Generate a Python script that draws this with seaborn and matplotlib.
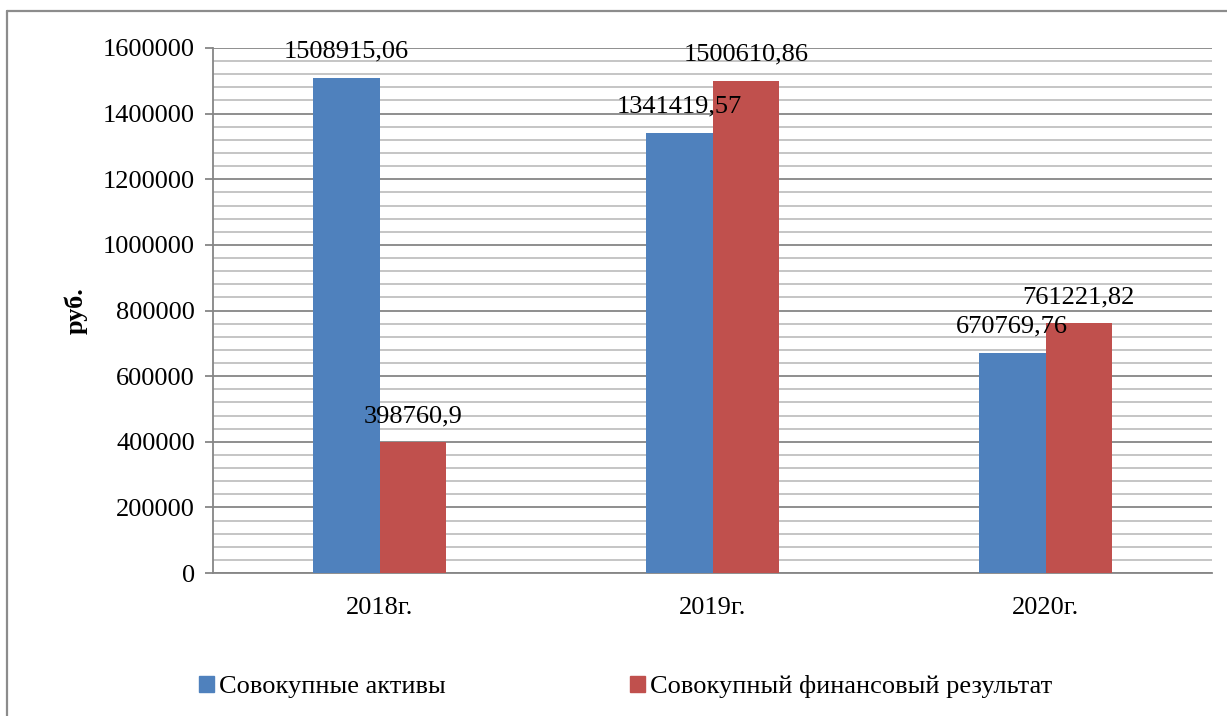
import matplotlib
matplotlib.use("Agg")
import matplotlib.pyplot as plt
import matplotlib.lines as mlines
import matplotlib.patches as mpatches
from matplotlib.ticker import MultipleLocator
import numpy as np
import pandas as pd
import seaborn as sns

# ---- data ----
years = ["2018г.", "2019г.", "2020г."]
series_names = ["Совокупные активы", "Совокупный финансовый результат"]
assets = [1508915.06, 1341419.57, 670769.76]
fin_result = [398760.9, 1500610.86, 761221.82]
assets_labels = ["1508915,06", "1341419,57", "670769,76"]
fin_labels = ["398760,9", "1500610,86", "761221,82"]
y_ticks = [0, 200000, 400000, 600000, 800000, 1000000, 1200000, 1400000, 1600000]

df = pd.DataFrame({
    "year": years * 2,
    "series": [series_names[0]] * 3 + [series_names[1]] * 3,
    "value": assets + fin_result,
})

sns.set_theme(style="white")
plt.rcParams["font.family"] = ["Liberation Serif", "DejaVu Serif"]

BLUE = "#4F81BD"
RED = "#C0504D"
FS = 19

fig = plt.figure(figsize=(12.27, 7.16), dpi=100)
ax = fig.add_axes([213 / 1227, 1 - 573 / 716, 999 / 1227, 525 / 716])

sns.barplot(data=df, x="year", y="value", hue="series", order=years,
            hue_order=series_names, palette=[BLUE, RED], width=0.4, gap=0,
            saturation=1, ax=ax, legend=False, zorder=3, linewidth=0)

ax.set_xlim(-0.5, 2.5)
ax.set_ylim(0, 1600000)
ax.set_yticks(y_ticks)
ax.set_yticklabels([str(v) for v in y_ticks])
ax.yaxis.set_minor_locator(MultipleLocator(40000))
ax.grid(axis="y", which="major", color="#868686", linewidth=1.3, zorder=0)
ax.grid(axis="y", which="minor", color="#c0c0c0", linewidth=1.3, zorder=0)
ax.set_axisbelow(True)

for s in ["top", "right"]:
    ax.spines[s].set_visible(False)
for s in ["left", "bottom"]:
    ax.spines[s].set_color("#868686")
    ax.spines[s].set_linewidth(1.3)

ax.tick_params(axis="y", which="major", length=6, width=1.3, color="#868686",
               direction="out", labelsize=FS, pad=7, left=True, labelcolor="black")
ax.tick_params(axis="y", which="minor", length=0)
ax.tick_params(axis="x", length=0, labelsize=FS, pad=17, labelcolor="black")
ax.set_xlabel("")
ax.set_ylabel("руб.", fontsize=FS, fontweight="bold", color="black")
ax.yaxis.set_label_coords(-0.125, 0.5)

# data labels
containers = ax.containers
for cont, labs in zip(containers, [assets_labels, fin_labels]):
    for bar, lab in zip(cont, labs):
        ax.annotate(lab, (bar.get_x() + bar.get_width() / 2, bar.get_height()),
                    xytext=(0, 14.5), textcoords="offset points",
                    ha="center", va="baseline", fontsize=FS, zorder=5,
                    color="black")

# legend
handles = [mpatches.Patch(color=BLUE, label=series_names[0]),
           mpatches.Patch(color=RED, label=series_names[1])]
leg = fig.legend(handles=handles, loc="center", bbox_to_anchor=(0.510, 1 - 687 / 716),
                 ncol=2, frameon=False, fontsize=FS, handlelength=0.54,
                 handleheight=0.54, handletextpad=0.2, columnspacing=7.0)
for t in leg.get_texts():
    t.set_color("black")

# outer chart frame
fig.add_artist(mlines.Line2D([7 / 1227, 7 / 1227], [0, 1 - 11 / 716],
                             transform=fig.transFigure, color="#8c8c8c", linewidth=1.6))
fig.add_artist(mlines.Line2D([7 / 1227, 1], [1 - 11 / 716, 1 - 11 / 716],
                             transform=fig.transFigure, color="#8c8c8c", linewidth=1.6))

fig.savefig("out.png", dpi=100)
